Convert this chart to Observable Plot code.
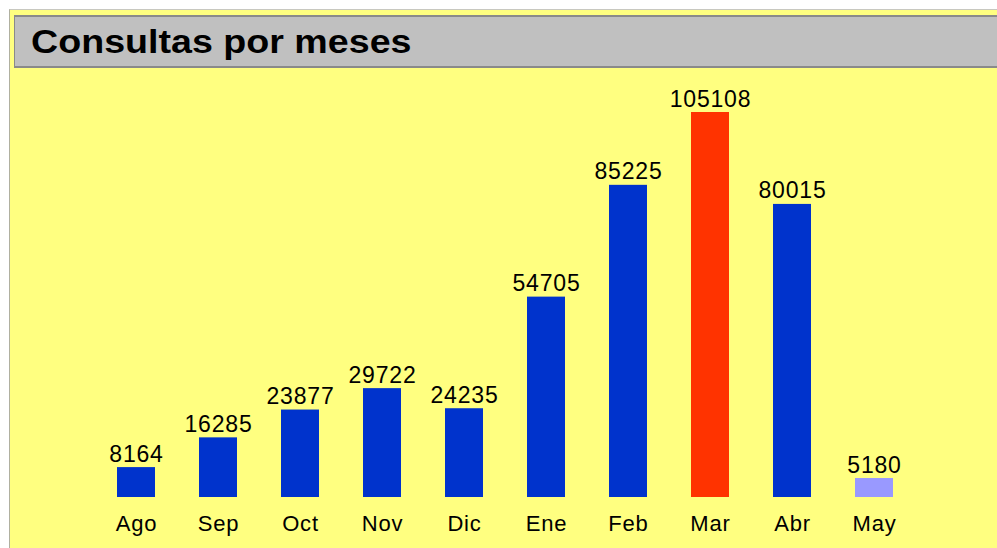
<!DOCTYPE html>
<html>
<head>
<meta charset="utf-8">
<script src="https://cdn.jsdelivr.net/npm/d3@7"></script>
<script src="https://cdn.jsdelivr.net/npm/@observablehq/plot@0.6"></script>
<style>
  html, body { margin: 0; padding: 0; background: #ffffff; width: 997px; height: 548px; overflow: hidden; }
  #frame { position: absolute; left: 9px; top: 9px; width: 988px; height: 539px;
           background: #ffff80; border-left: 1px solid #b0b0a0; border-top: 1px solid #c8c8c0; box-sizing: border-box; }
  #titlebar { position: absolute; left: 14px; top: 15px; width: 983px; height: 53px;
              background: #c0c0c0; border-top: 2px solid #8a8a8a; border-bottom: 2px solid #8a8a8a; border-left: 1px solid #8a8a8a;
              box-sizing: border-box; }
  #title { position: absolute; left: 16px; top: 6px; font-family: "Liberation Sans", Arial, sans-serif;
           font-weight: bold; font-size: 33px; color: #000; transform: scaleX(1.14); transform-origin: 0 50%; white-space: nowrap; }
  #chart { position: absolute; left: 0; top: 69px; }
  #chart text { letter-spacing: 0.8px; }
</style>
</head>
<body>
<div id="frame"></div>
<div id="titlebar"><div id="title">Consultas por meses</div></div>
<div id="chart"></div>
<script>
const months = ["Ago", "Sep", "Oct", "Nov", "Dic", "Ene", "Feb", "Mar", "Abr", "May"];
const consultas = [8164, 16285, 23877, 29722, 24235, 54705, 85225, 105108, 80015, 5180];
const highlightMonth = "Mar";
const partialMonth = "May";

const data = months.map((m, i) => ({month: m, value: consultas[i]}));
const fillFor = d => d.month === highlightMonth ? "#ff3300" : d.month === partialMonth ? "#9999ff" : "#0033cc";

const chart = Plot.plot({
  width: 997,
  height: 479,
  marginLeft: 90,
  marginRight: 78,
  marginTop: 43,
  marginBottom: 51,
  style: {background: "transparent", fontFamily: "'Liberation Sans', Arial, sans-serif", color: "#000"},
  x: {domain: months, paddingInner: 0.54, paddingOuter: 0.27, align: 0.5},
  y: {domain: [0, d3.max(consultas)], axis: null},
  marks: [
    Plot.barY(data, {x: "month", y: "value", fill: fillFor}),
    Plot.text(data, {x: "month", y: "value", text: d => String(d.value), lineAnchor: "bottom", dy: -6, fontSize: 23, fill: "#000"}),
    Plot.axisX({tickSize: 0, tickPadding: 18, fontSize: 22, label: null, color: "#000"})
  ]
});
document.getElementById("chart").appendChild(chart);
</script>
</body>
</html>
